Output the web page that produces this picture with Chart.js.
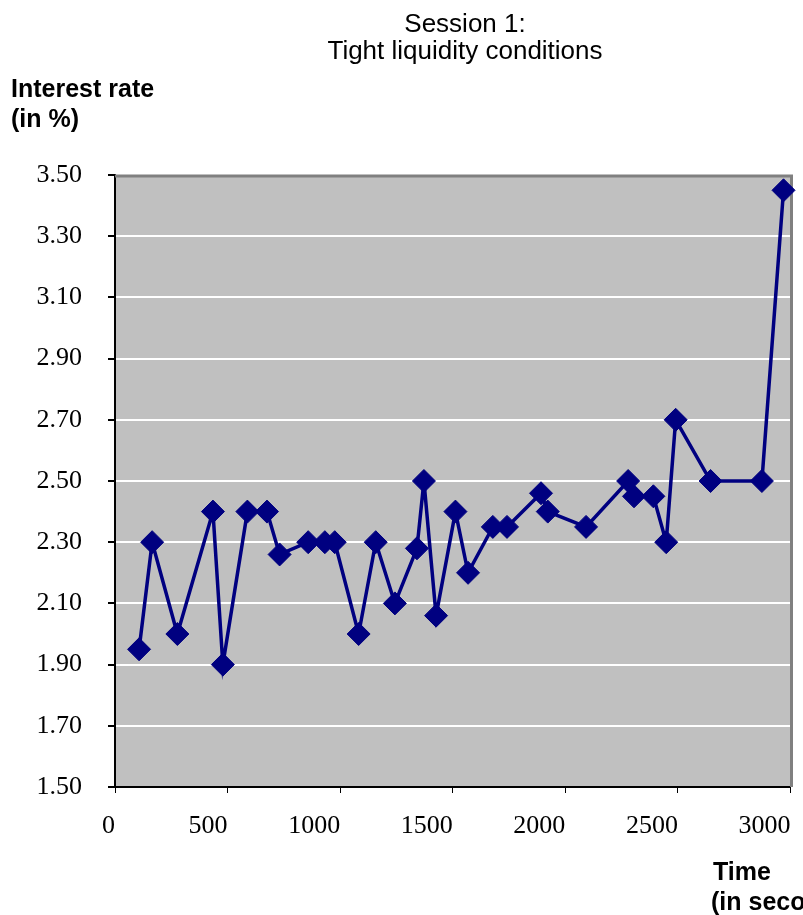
<!DOCTYPE html>
<html lang="en">
<head>
    <meta charset="UTF-8">
    <title>Session 1: Tight liquidity conditions</title>
    <script src="https://cdn.jsdelivr.net/npm/chart.js@4.4.0/dist/chart.umd.min.js"></script>
    <style>
        body {
            margin: 0;
            background: #ffffff;
        }
        canvas#rateChart {
            display: block;
        }
    </style>
</head>
<body>
    <canvas id="rateChart" width="803" height="915"></canvas>
    <script>
        // Time of each trade (seconds) and the interest rate (%)
        const times = [107, 165, 277, 435, 479, 588, 675, 731, 858, 932, 976, 1082, 1158, 1243, 1341, 1372,
                       1426, 1512, 1568, 1678, 1741, 1892, 1922, 2092, 2279, 2305, 2391, 2448, 2490, 2645, 2873, 2969];
        const rates = [1.95, 2.30, 2.00, 2.40, 1.90, 2.40, 2.40, 2.26, 2.30, 2.30, 2.30, 2.00, 2.30, 2.10, 2.28, 2.50,
                       2.06, 2.40, 2.20, 2.35, 2.35, 2.46, 2.40, 2.35, 2.50, 2.45, 2.45, 2.30, 2.70, 2.50, 2.50, 3.45];
        const titleLines = ['Session 1:', 'Tight liquidity conditions'];
        const yTitleLines = ['Interest rate', '(in %)'];
        const xTitleLines = ['Time', '(in seconds)'];

        const points = times.map((t, i) => ({ x: t, y: rates[i] }));

        const serif = '"Liberation Serif", "Times New Roman", serif';
        const sans = '"Liberation Sans", Arial, sans-serif';

        // grey plot area, excel style frame and the free text around the chart
        const excelFrame = {
            id: 'excelFrame',
            beforeDraw(chart) {
                const { ctx, chartArea: a } = chart;
                ctx.save();
                ctx.fillStyle = '#c0c0c0';
                ctx.fillRect(a.left, a.top, a.right - a.left, a.bottom - a.top);
                ctx.restore();
            },
            beforeDatasetsDraw(chart) {
                const { ctx, chartArea: a } = chart;
                ctx.save();
                ctx.strokeStyle = '#808080';
                ctx.lineWidth = 3;
                ctx.beginPath();
                ctx.moveTo(a.left, a.top + 1);
                ctx.lineTo(a.right + 1, a.top + 1);
                ctx.lineTo(a.right + 1, a.bottom);
                ctx.stroke();
                ctx.restore();
            },
            afterDraw(chart) {
                const ctx = chart.ctx;
                ctx.save();
                ctx.fillStyle = '#000';
                ctx.textBaseline = 'alphabetic';
                ctx.font = '26px ' + sans;
                ctx.textAlign = 'center';
                ctx.fillText(titleLines[0], 465, 32);
                ctx.fillText(titleLines[1], 465, 59);
                ctx.font = 'bold 25px ' + sans;
                ctx.textAlign = 'left';
                ctx.fillText(yTitleLines[0], 11, 97);
                ctx.fillText(yTitleLines[1], 11, 127);
                ctx.fillText(xTitleLines[0], 713, 880);
                ctx.fillText(xTitleLines[1], 711, 910);
                ctx.restore();
            }
        };

        new Chart(document.getElementById('rateChart').getContext('2d'), {
            type: 'scatter',
            data: {
                datasets: [{
                    data: points,
                    showLine: true,
                    borderColor: '#000080',
                    backgroundColor: '#000080',
                    borderWidth: 3.5,
                    pointStyle: 'rectRot',
                    pointRadius: 11.5,
                    pointHoverRadius: 11.5,
                    pointBorderWidth: 1,
                    clip: false
                }]
            },
            options: {
                responsive: false,
                animation: false,
                layout: { padding: { top: 175, right: 10, bottom: 0, left: 0 } },
                plugins: {
                    legend: { display: false },
                    tooltip: { enabled: false }
                },
                scales: {
                    x: {
                        type: 'linear',
                        min: 0,
                        max: 3000,
                        afterFit(scale) {
                            scale.height = 128;
                            scale.paddingLeft = 0;
                            scale.paddingRight = 0;
                        },
                        border: { color: '#000', width: 2 },
                        grid: { drawOnChartArea: false, tickLength: 6, tickColor: '#000' },
                        ticks: {
                            stepSize: 500,
                            align: 'end',
                            padding: 18,
                            color: '#000',
                            font: { family: serif, size: 26 },
                            callback: v => String(v)
                        }
                    },
                    y: {
                        min: 1.5,
                        max: 3.5,
                        afterFit(scale) {
                            scale.width = 115;
                            scale.paddingTop = 0;
                            scale.paddingBottom = 0;
                        },
                        border: { color: '#000', width: 2 },
                        grid: { color: '#ffffff', lineWidth: 2, tickLength: 7, tickColor: '#000' },
                        ticks: {
                            stepSize: 0.2,
                            padding: 26,
                            color: '#000',
                            font: { family: serif, size: 26 },
                            callback: v => v.toFixed(2)
                        }
                    }
                }
            },
            plugins: [excelFrame]
        });
    </script>
</body>
</html>
